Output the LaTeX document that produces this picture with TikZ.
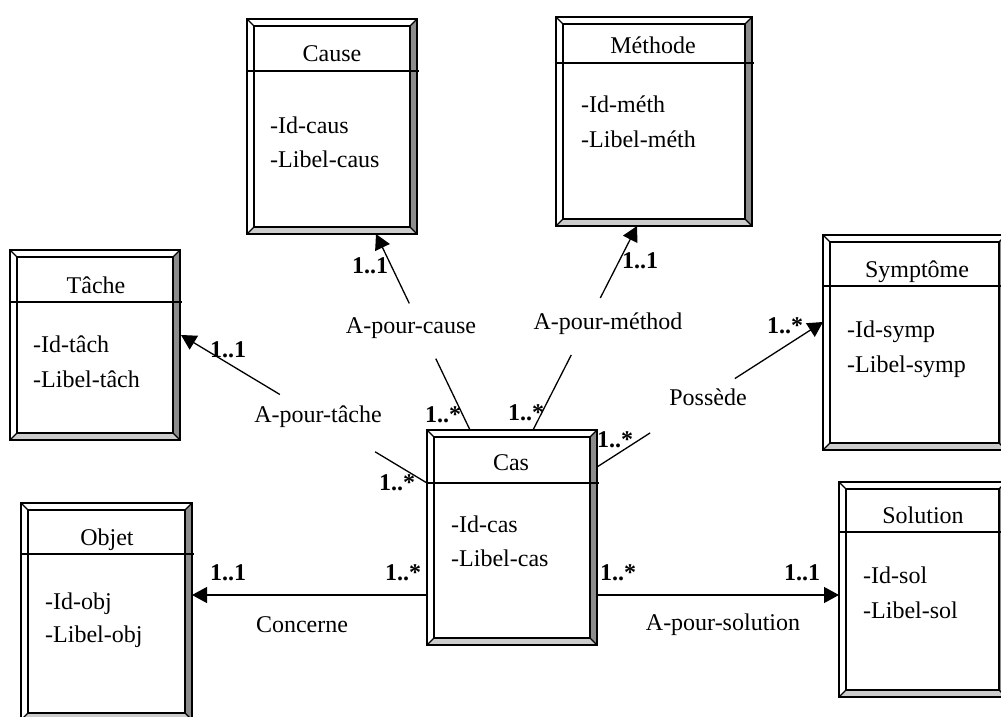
\documentclass[tikz,border=0pt]{standalone}
\usepackage{fontspec}
\setmainfont{Liberation Serif}
\usetikzlibrary{arrows.meta}

\definecolor{bevdark}{gray}{0.55}
\definecolor{bevlight}{gray}{0.80}

\tikzset{
  boxline/.style={line width=1.3pt, black},
  link/.style={line width=1.3pt, black},
  linkarrow/.style={link, -{Triangle[length=15pt,width=16pt]}},
  txt/.style={inner sep=0pt, font=\fontsize{24}{28}\selectfont},
  card/.style={inner sep=0pt, font=\fontsize{24}{28}\selectfont\bfseries},
}

% bevelled class box: left, top, right, bottom, header line (y grows downwards)
\newcommand{\entitybox}[5]{%
  \fill[bevdark] (#3,#2) -- (#3,#4) -- ({#3-7},{#4-7}) -- ({#3-7},{#2+7}) -- cycle;
  \fill[bevlight] (#1,#4) -- (#3,#4) -- ({#3-7},{#4-7}) -- ({#1+7},{#4-7}) -- cycle;
  \draw[boxline] (#1,#2) rectangle (#3,#4);
  \draw[boxline] ({#1+7},{#2+7}) rectangle ({#3-7},{#4-7});
  \draw[boxline] (#1,#2) -- ({#1+7},{#2+7}) (#3,#2) -- ({#3-7},{#2+7})
                 (#1,#4) -- ({#1+7},{#4-7}) (#3,#4) -- ({#3-7},{#4-7});
  \draw[boxline] (#1,#5) -- ({#3+2},#5);
}

\begin{document}
\begin{tikzpicture}[x=1pt,y=-1pt]
\useasboundingbox (0,0) rectangle (1001,717);
\clip (0,0) rectangle (1001,717);

% class boxes
\entitybox{247}{19}{417}{234}{71}
\entitybox{556}{17}{752}{226}{63}
\entitybox{10}{250}{180}{440}{302}
\entitybox{823}{235}{1006}{450}{286}
\entitybox{427}{430}{597}{645}{483}
\entitybox{21}{503}{192}{720}{554}
\entitybox{839}{482}{1006}{697}{532}

% titles
\node[txt, anchor=base] (cause) at (332,62) {Cause};
\node[txt, anchor=base] (methode) at (653,53) {Méthode};
\node[txt, anchor=base] (tache) at (96,293) {Tâche};
\node[txt, anchor=base] (symptome) at (917,277) {Symptôme};
\node[txt, anchor=base] (cas) at (511,470) {Cas};
\node[txt, anchor=base] (objet) at (107,545) {Objet};
\node[txt, anchor=base] (solution) at (923,523) {Solution};

% attributes
\node[txt, anchor=base west] (cause-a1) at (270,133) {-Id-caus};
\node[txt, anchor=base west] (cause-a2) at (270,167) {-Libel-caus};
\node[txt, anchor=base west] (methode-a1) at (581,112) {-Id-méth};
\node[txt, anchor=base west] (methode-a2) at (581,147) {-Libel-méth};
\node[txt, anchor=base west] (tache-a1) at (33,352) {-Id-tâch};
\node[txt, anchor=base west] (tache-a2) at (33,387) {-Libel-tâch};
\node[txt, anchor=base west] (symptome-a1) at (847,337) {-Id-symp};
\node[txt, anchor=base west] (symptome-a2) at (847,372) {-Libel-symp};
\node[txt, anchor=base west] (cas-a1) at (451,532) {-Id-cas};
\node[txt, anchor=base west] (cas-a2) at (451,566) {-Libel-cas};
\node[txt, anchor=base west] (objet-a1) at (45,609) {-Id-obj};
\node[txt, anchor=base west] (objet-a2) at (45,642) {-Libel-obj};
\node[txt, anchor=base west] (solution-a1) at (863,583) {-Id-sol};
\node[txt, anchor=base west] (solution-a2) at (863,618) {-Libel-sol};

% connector end points on the boxes
\coordinate (cas-cause) at (470,430);
\coordinate (cause-end) at (376,234);
\coordinate (cas-meth) at (533,430);
\coordinate (meth-end) at (637,226);
\coordinate (cas-symp) at (597,467);
\coordinate (symp-end) at (823,322);
\coordinate (cas-tache) at (427,483);
\coordinate (tache-end) at (181,335);
\coordinate (cas-obj) at (427,595);
\coordinate (obj-end) at (192,595);
\coordinate (cas-sol) at (597,595);
\coordinate (sol-end) at (839,595);

% gaps left for the association names
\path (cas-cause) -- (cause-end) coordinate[pos=0.364] (gc1) coordinate[pos=0.646] (gc2);
\path (cas-meth) -- (meth-end) coordinate[pos=0.368] (gm1) coordinate[pos=0.647] (gm2);
\path (cas-symp) -- (symp-end) coordinate[pos=0.235] (gs1) coordinate[pos=0.61] (gs2);
\path (cas-tache) -- (tache-end) coordinate[pos=0.211] (gt1) coordinate[pos=0.598] (gt2);

% associations
\draw[link] (cas-cause) -- (gc1);
\draw[linkarrow] (gc2) -- (cause-end);
\draw[link] (cas-meth) -- (gm1);
\draw[linkarrow] (gm2) -- (meth-end);
\draw[link] (cas-symp) -- (gs1);
\draw[linkarrow] (gs2) -- (symp-end);
\draw[link] (cas-tache) -- (gt1);
\draw[linkarrow] (gt2) -- (tache-end);
\draw[linkarrow] (cas-obj) -- (obj-end);
\draw[linkarrow] (cas-sol) -- (sol-end);

% association names
\node[txt, anchor=base] (r-cause) at (411,333) {A-pour-cause};
\node[txt, anchor=base] (r-meth) at (608,329) {A-pour-méthod};
\node[txt, anchor=base] (r-symp) at (708,405) {Possède};
\node[txt, anchor=base] (r-tache) at (318,422) {A-pour-tâche};
\node[txt, anchor=base] (r-obj) at (302,632) {Concerne};
\node[txt, anchor=base] (r-sol) at (723,630) {A-pour-solution};

% multiplicities
\node[card, anchor=base] (m-cause1) at (370,273) {1..1};
\node[card, anchor=base] (m-cause2) at (443,422) {1..*};
\node[card, anchor=base] (m-meth1) at (640,268) {1..1};
\node[card, anchor=base] (m-meth2) at (526,420) {1..*};
\node[card, anchor=base] (m-symp1) at (785,333) {1..*};
\node[card, anchor=base] (m-symp2) at (615,447) {1..*};
\node[card, anchor=base] (m-tache1) at (228,357) {1..1};
\node[card, anchor=base] (m-tache2) at (397,490) {1..*};
\node[card, anchor=base] (m-obj1) at (228,580) {1..1};
\node[card, anchor=base] (m-obj2) at (403,580) {1..*};
\node[card, anchor=base] (m-sol1) at (618,580) {1..*};
\node[card, anchor=base] (m-sol2) at (802,580) {1..1};
\end{tikzpicture}
\end{document}
